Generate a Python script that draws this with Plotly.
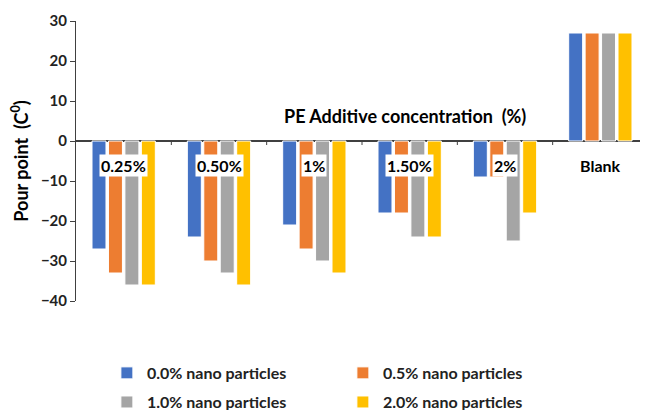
import plotly.graph_objects as go

categories = ["0.25%", "0.50%", "1%", "1.50%", "2%", "Blank"]
series_names = ["0.0% nano particles", "0.5% nano particles", "1.0% nano particles", "2.0% nano particles"]
s00 = [-27, -24, -21, -18, -9, 27]
s05 = [-33, -30, -27, -18, -9, 27]
s10 = [-36, -33, -30, -24, -25, 27]
s20 = [-36, -36, -33, -24, -18, 27]
colors = ["#4472C4", "#ED7D31", "#A5A5A5", "#FFC000"]
y_ticks = [-40, -30, -20, -10, 0, 10, 20, 30]

FONT = "Lato"
legend_ids = ["legend", "legend", "legend2", "legend2"]

fig = go.Figure()
for name, vals, col, lg in zip(series_names, [s00, s05, s10, s20], colors, legend_ids):
    fig.add_trace(go.Bar(x=categories, y=vals, name=name, legend=lg,
                         marker=dict(color=col, line=dict(color="white", width=1))))

# category labels inside plot near zero line
for c in categories:
    fig.add_annotation(x=c, y=-6.2, text=c, showarrow=False, bgcolor="white",
                       font=dict(family=FONT, size=16, color="black", weight="bold"),
                       borderpad=1)

# small tick marks at category boundaries on the zero line
for i in range(len(categories)):
    fig.add_shape(type="line", xref="x", yref="y", x0=i + 0.5, x1=i + 0.5, y0=0, y1=-1,
                  line=dict(color="#404040", width=1))

fig.add_annotation(xref="paper", yref="y", x=0.575, y=6.2, text="PE Additive concentration  (%)",
                   showarrow=False, font=dict(family=FONT, size=18, color="black", weight="bold"))

legend_common = dict(orientation="h", xanchor="left", yanchor="middle", entrywidth=191,
                     font=dict(family=FONT, size=16, color="#222", weight="bold"),
                     bgcolor="rgba(0,0,0,0)")

fig.update_layout(
    width=648, height=410,
    margin=dict(l=68, r=8, t=13, b=117, autoexpand=False),
    paper_bgcolor="white", plot_bgcolor="white",
    barmode="group", bargap=0.31, bargroupgap=0.15,
    font=dict(family=FONT, color="#222", weight="bold"),
    xaxis=dict(showticklabels=False, showline=False, ticks="", showgrid=False, zeroline=False,
               range=[-0.5, 5.5]),
    yaxis=dict(range=[-40, 30], tickvals=y_ticks, showgrid=False,
               showline=True, linecolor="#404040", linewidth=1, ticks="outside", ticklen=5,
               tickcolor="#404040", zeroline=True, zerolinecolor="#404040", zerolinewidth=1.5,
               tickfont=dict(family=FONT, size=15, color="#222", weight="bold"),
               title=dict(text="Pour point  (C<sup>0</sup>)", standoff=11,
                          font=dict(family=FONT, size=18, color="black", weight="bold"))),
    legend=dict(x=0.054, y=-0.257, **legend_common),
    legend2=dict(x=0.054, y=-0.361, **legend_common),
    showlegend=True,
)

fig.write_html("out.html")
